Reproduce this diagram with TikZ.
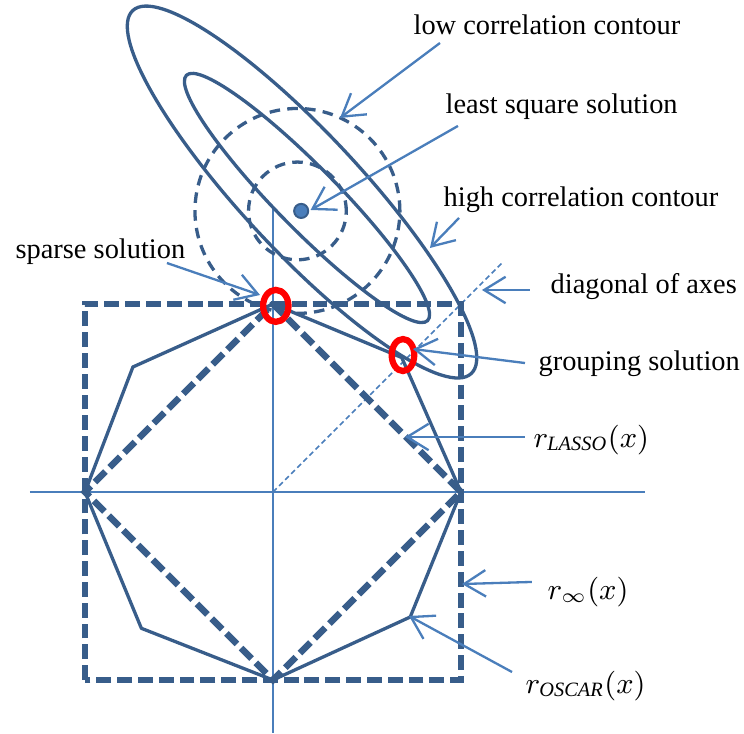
\documentclass[tikz,border=0pt]{standalone}
\usepackage{fontspec}
\setmainfont{Liberation Serif}
\usetikzlibrary{arrows.meta}
\definecolor{darkblue}{RGB}{56,93,138}
\definecolor{lightblue}{RGB}{74,126,187}

\begin{document}
\begin{tikzpicture}[
		axisline/.style={lightblue,line width=0.6pt},
		boxline/.style={darkblue,line width=2pt,dash pattern=on 4.5pt off 1.8pt},
		octline/.style={darkblue,line width=1pt,line join=round},
		contour/.style={darkblue,line width=1pt},
		lowcontour/.style={darkblue,line width=1pt,dash pattern=on 3.2pt off 2.2pt},
		ring/.style={red,line width=1.9pt},
		pointer/.style={lightblue,line width=0.7pt,-{Straight Barb[length=6.5pt,width=8pt]}},
		txt/.style={inner sep=0pt,anchor=west,font=\fontsize{8.6}{10}\selectfont},
		mathtxt/.style={txt,font=\fontsize{8.8}{11}\selectfont}
	]
		\useasboundingbox (-2.904,-2.574) rectangle (5.011,5.234);
		% axes and diagonal
		\coordinate (o) at (0,0);
		\draw[axisline] (-2.585,0) -- (3.96,0);
		\draw[axisline] (0,-2.56) -- (0,3.01);
		\draw[lightblue,line width=0.45pt,dash pattern=on 1.6pt off 1pt] (o) -- (2.43,2.43);
		
		% r_inf, r_lasso, r_oscar
		\draw[boxline] (-2,-2) rectangle (2,2);
		\draw[boxline] (0,2) -- (2,0) -- (0,-2) -- (-2,0) -- cycle;
		\draw[octline] (0,2) -- (1.37,1.43) -- (2,0) -- (1.46,-1.33) -- (0,-2) -- (-1.40,-1.45) -- (-2,0) -- (-1.49,1.33) -- cycle;
		
		% contours
		\coordinate (lsq) at (0.3,2.99);
		\coordinate (circc) at (0.26,2.99);
		\coordinate (outc) at (0.309,3.191);
		\coordinate (inc) at (0.362,3.128);
		\draw[lowcontour] (circc) circle [radius=1.09];
		\draw[lowcontour] (circc) circle [radius=0.52];
		\draw[contour,rotate around={-47:(outc)}] (outc) ellipse [x radius=2.64,y radius=0.63];
		\draw[contour,rotate around={-45.5:(inc)}] (inc) ellipse [x radius=1.83,y radius=0.33];
		\fill[lightblue,draw=darkblue,line width=0.6pt] (lsq) circle [radius=0.075];
		
		% solutions
		\coordinate (sparsept) at (0.03,1.98);
		\coordinate (grouppt) at (1.383,1.457);
		\draw[ring] (sparsept) ellipse [x radius=0.135,y radius=0.17];
		\draw[ring] (grouppt) ellipse [x radius=0.12,y radius=0.17];
		
		% labels
		\node[txt] (low) at (1.489,4.968) {low correlation contour};
		\node[txt] (least) at (1.83,4.096) {least square solution};
		\node[txt] (high) at (1.809,3.106) {high correlation contour};
		\node[txt] (diag) at (2.947,2.181) {diagonal of axes};
		\node[txt] (group) at (2.819,1.362) {grouping solution};
		\node[txt] (sparse) at (-2.745,2.553) {sparse solution};
		\node[mathtxt] (lasso) at (2.766,0.553) {$r_{\mathit{LASSO}}(x)$};
		\node[mathtxt] (inf) at (2.915,-1.064) {$r_{\infty}(x)$};
		\node[mathtxt] (oscar) at (2.681,-2.064) {$r_{\mathit{OSCAR}}(x)$};
		
		% arrow ends
		\coordinate (low-tail) at (1.777,4.777);	\coordinate (low-tip) at (0.713,3.979);
		\coordinate (least-tail) at (1.968,3.894);	\coordinate (least-tip) at (0.40,3.0);
		\coordinate (high-tail) at (1.979,2.915);	\coordinate (high-tip) at (1.670,2.596);
		\coordinate (diag-tail) at (2.734,2.149);	\coordinate (diag-tip) at (2.223,2.149);
		\coordinate (group-tail) at (2.681,1.372);	\coordinate (group-tip) at (1.489,1.521);
		\coordinate (sparse-tail) at (-1.128,2.436);	\coordinate (sparse-tip) at (-0.138,2.096);
		\coordinate (lasso-tail) at (2.681,0.585);	\coordinate (lasso-tip) at (1.404,0.585);
		\coordinate (inf-tail) at (2.755,-0.957);	\coordinate (inf-tip) at (2.011,-0.979);
		\coordinate (oscar-tail) at (2.543,-1.915);	\coordinate (oscar-tip) at (1.447,-1.319);
		\foreach \n in {low,least,high,diag,group,sparse,lasso,inf,oscar}
		{
		\draw[pointer] (\n-tail) -- (\n-tip);
		}
	\end{tikzpicture}
\end{document}
